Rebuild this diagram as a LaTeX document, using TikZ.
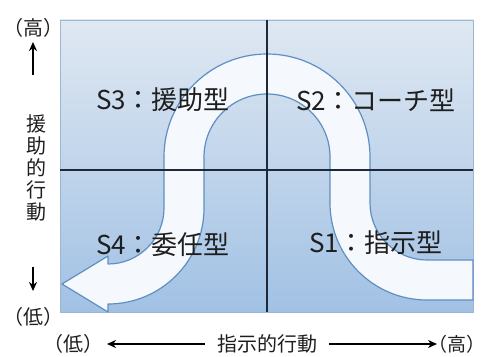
\documentclass[tikz,border=0pt]{standalone}
\usepackage{fontspec}
\setmainfont{Noto Sans CJK JP}
\usetikzlibrary{arrows.meta}
\definecolor{bgtop}{HTML}{DFE8F2}
\definecolor{bgbot}{HTML}{A1C1E4}
\definecolor{arrfill}{HTML}{F5F8FC}
\definecolor{arrline}{HTML}{5E8FC2}
\definecolor{axisdark}{HTML}{1E2838}
\definecolor{txt}{HTML}{1E1E1E}
\definecolor{frame}{HTML}{9DB6D2}
\tikzset{
  quad/.style={font=\fontsize{26}{26}\selectfont, text=txt, inner sep=0pt},
  axlab/.style={font=\fontsize{20}{20}\selectfont, text=txt, inner sep=0pt},
  axarrow/.style={draw=black, line width=2pt, -{Stealth[length=9pt,width=8pt]}},
  divider/.style={draw=axisdark, line width=2.2pt},
}
\begin{document}
\begin{tikzpicture}[x=1pt,y=1pt]
\useasboundingbox (0,0) rectangle (487,356);
% chart background
\shade[top color=bgtop, bottom color=bgbot] (60,44) rectangle (473,336);
\draw[frame, line width=0.8pt] (60,44) rectangle (473,336);
% U-shaped arrow
\draw[arrline, line width=1.2pt, fill=arrfill, line join=round]
  (62,72) -- (108,100) -- (108,92)
  arc[start angle=270, end angle=360, radius=56]
  -- (164,199)
  arc[start angle=180, end angle=0, radius=103]
  -- (370,153)
  arc[start angle=180, end angle=270, radius=57]
  -- (473,96) -- (473,56) -- (427,56)
  arc[start angle=270, end angle=180, radius=97]
  -- (330,199)
  arc[start angle=0, end angle=180, radius=63]
  -- (204,148)
  arc[start angle=0, end angle=-90, radius=96]
  -- (108,44) -- cycle;
% dividers
\coordinate (hl) at (60,186);
\coordinate (hr) at (473,186);
\coordinate (vt) at (267,336);
\coordinate (vb) at (267,44);
\draw[divider] (hl) -- (hr);
\draw[divider] (vt) -- (vb);
% quadrant labels
\node[quad] (s3) at (163,256) {S3：援助型};
\node[quad] (s2) at (376,256) {S2：コーチ型};
\node[quad] (s4) at (163,111) {S4：委任型};
\node[quad] (s1) at (376,113) {S1：指示型};
% vertical axis
\node[axlab] (yhi) at (33,328) {（高）};
\node[axlab] (ylo) at (33,39) {（低）};
\node[axlab, align=center, font=\fontsize{20}{21.8}\selectfont] (ylab) at (36,188) {援\\助\\的\\行\\動};
\coordinate (uat) at (33,281);
\coordinate (uah) at (33,314);
\coordinate (dat) at (33,89);
\coordinate (dah) at (33,65);
\draw[axarrow] (uat) -- (uah);
\draw[axarrow] (dat) -- (dah);
% horizontal axis
\node[axlab] (xlo) at (73,12) {（低）};
\node[axlab] (xlab) at (267,12) {指示的行動};
\node[axlab, font=\fontsize{19}{19}\selectfont] (xhi) at (457,12) {（高）};
\draw[axarrow] (xlab.west) ++(-12,0) coordinate (lat) -- (107,12);
\draw[axarrow] (xlab.east) ++(12,0) coordinate (rat) -- (437,12);
\end{tikzpicture}
\end{document}
